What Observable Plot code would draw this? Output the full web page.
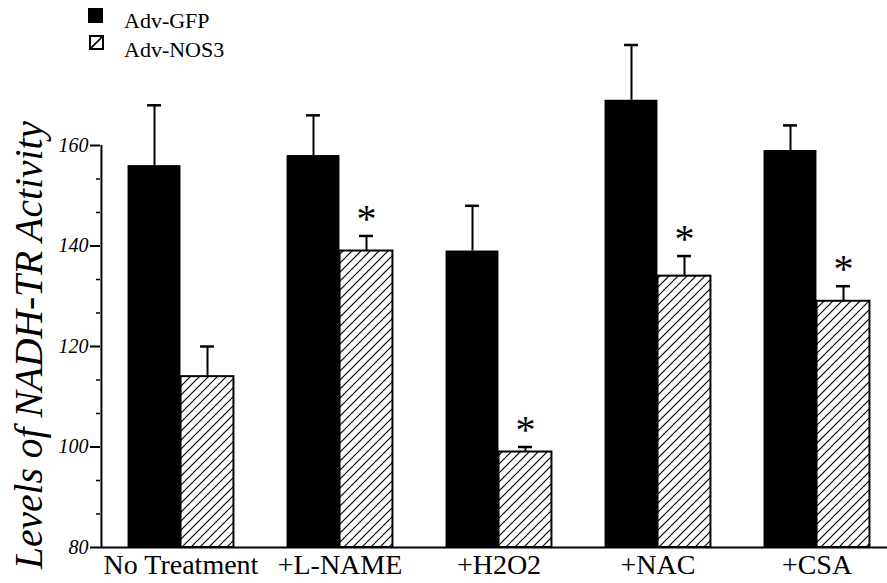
<!DOCTYPE html>
<html>
<head>
<meta charset="utf-8">
<script src="https://cdn.jsdelivr.net/npm/d3@7"></script>
<script src="https://cdn.jsdelivr.net/npm/@observablehq/plot@0.6"></script>
<style>
  body { margin: 0; background: #fff; }
  #wrap { position: relative; width: 887px; height: 583px; font-family: "Liberation Serif", "Times New Roman", serif; color: #000; }
  .sw { position: absolute; box-sizing: border-box; }
  .lt { position: absolute; font-family: "Liberation Serif", "Times New Roman", serif; font-size: 22px; line-height: 22px; white-space: nowrap; }
</style>
</head>
<body>
<div id="wrap">
  <div class="sw" style="left:88px;top:8px;width:15px;height:15px;background:#000;"></div>
  <div class="lt" style="left:124px;top:10px;">Adv-GFP</div>
  <div class="sw" style="left:89px;top:35px;width:15px;height:15px;border:2px solid #000;background:linear-gradient(to bottom right, transparent calc(50% - 1px), #000 calc(50% - 0.6px), #000 calc(50% + 0.6px), transparent calc(50% + 1px));"></div>
  <div class="lt" style="left:124px;top:39px;">Adv-NOS3</div>
</div>
<script>
// ---- data ----
const categories = ["No Treatment", "+L-NAME", "+H2O2", "+NAC", "+CSA"];
const seriesNames = ["Adv-GFP", "Adv-NOS3"];
const gfpMean = [156, 158, 139, 169, 159];
const gfpSE = [12, 8, 9, 11, 5];
const nos3Mean = [114, 139, 99, 134, 129];
const nos3SE = [6, 3, 1, 4, 3];
const nos3Significant = [false, true, true, true, true];
const yTicks = [80, 100, 120, 140, 160];
const yMinorTicks = [86.67, 93.33, 106.67, 113.33, 126.67, 133.33, 146.67, 153.33];
const yLabel = "Levels of NADH-TR Activity";

const gfpRows = categories.map((c, i) => ({category: c, series: seriesNames[0], value: gfpMean[i], hi: gfpMean[i] + gfpSE[i]}));
const nos3Rows = categories.map((c, i) => ({category: c, series: seriesNames[1], value: nos3Mean[i], hi: nos3Mean[i] + nos3SE[i], sig: nos3Significant[i]}));

// ---- layout ----
const xRange = [100.5, 896];
const half = (xRange[1] - xRange[0]) / categories.length / 2;
const barW = 53;

const hatchDefs = () => {
  const defs = d3.create("svg:defs");
  const p = defs.append("pattern").attr("id", "hatch").attr("patternUnits", "userSpaceOnUse")
    .attr("width", 9).attr("height", 9);
  p.append("rect").attr("width", 9).attr("height", 9).attr("fill", "white");
  p.append("path").attr("d", "M-1,1 L1,-1 M0,9 L9,0 M8,10 L10,8")
    .attr("stroke", "black").attr("stroke-width", 1.2);
  return defs.node();
};

const chart = Plot.plot({
  width: 887,
  height: 583,
  marginLeft: 100,
  marginRight: 0,
  marginTop: 44,
  marginBottom: 36,
  style: {fontFamily: "'Liberation Serif', 'Times New Roman', serif", color: "black", background: "white", overflow: "hidden"},
  x: {type: "band", domain: categories, range: xRange, padding: 0},
  y: {domain: [80, 180], range: [547, 44.5]},
  marks: [
    hatchDefs,
    Plot.barY(gfpRows, {x: "category", y1: 80, y2: "value", fill: "black", insetLeft: half - barW, insetRight: half}),
    Plot.barY(nos3Rows, {x: "category", y1: 80, y2: "value", fill: "url(#hatch)", stroke: "black", strokeWidth: 2, insetLeft: half, insetRight: half - barW}),
    Plot.ruleX(gfpRows, {x: "category", y1: "value", y2: "hi", dx: -barW / 2, strokeWidth: 2}),
    Plot.tickY(gfpRows, {x: "category", y: "hi", dx: -barW / 2, insetLeft: half - 7, insetRight: half - 7, strokeWidth: 2.5}),
    Plot.ruleX(nos3Rows, {x: "category", y1: "value", y2: "hi", dx: barW / 2, strokeWidth: 2}),
    Plot.tickY(nos3Rows, {x: "category", y: "hi", dx: barW / 2, insetLeft: half - 7, insetRight: half - 7, strokeWidth: 2.5}),
    Plot.text(nos3Rows.filter(d => d.sig), {x: "category", y: "hi", text: () => "*", dx: barW / 2, dy: -4, fontSize: 40, lineAnchor: "bottom"}),
    Plot.ruleY([80], {strokeWidth: 2}),
    Plot.ruleX([categories[0]], {x: d => d, dx: -half, y1: 80, y2: 160, strokeWidth: 2}),
    Plot.axisY({ticks: yTicks, tickSize: 10, tickPadding: 2, fontSize: 20, fontStyle: "italic", strokeWidth: 2, label: null}),
    Plot.axisY({ticks: yMinorTicks, tickSize: 4, tickFormat: () => "", strokeWidth: 1.5, label: null}),
    Plot.axisX({tickSize: 0, tickPadding: 7, fontSize: 28, label: null}),
    Plot.text([yLabel], {text: d => d, frameAnchor: "left", rotate: -90, dx: -59, dy: 49, fontSize: 39.5, fontStyle: "italic", lineAnchor: "bottom", textAnchor: "middle"})
  ]
});
document.getElementById("wrap").appendChild(chart);
</script>
</body>
</html>
